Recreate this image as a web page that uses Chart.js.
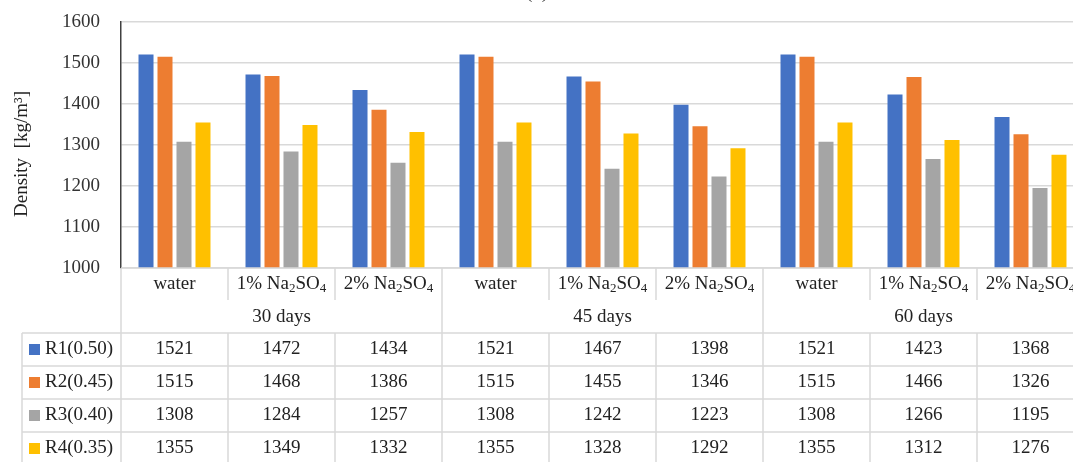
<!DOCTYPE html>
<html>
<head>
<meta charset="utf-8">
<script src="https://cdn.jsdelivr.net/npm/chart.js@4.4.1/dist/chart.umd.min.js"></script>
<style>
  html, body { margin: 0; padding: 0; background: #fff; overflow: hidden; }
  #wrap { width: 1100px; height: 482px; margin-top: -20px; }
</style>
</head>
<body>
<div id="wrap"><canvas id="densityChart" width="1100" height="482"></canvas></div>
<script>
  // data
  var periods = ["30 days", "45 days", "60 days"];
  var media = ["water", "1% Na₂SO₄", "2% Na₂SO₄"];
  var seriesNames = ["R1(0.50)", "R2(0.45)", "R3(0.40)", "R4(0.35)"];
  var seriesColors = ["#4472C4", "#ED7D31", "#A5A5A5", "#FFC000"];
  var r1 = [1521, 1472, 1434, 1521, 1467, 1398, 1521, 1423, 1368];
  var r2 = [1515, 1468, 1386, 1515, 1455, 1346, 1515, 1466, 1326];
  var r3 = [1308, 1284, 1257, 1308, 1242, 1223, 1308, 1266, 1195];
  var r4 = [1355, 1349, 1332, 1355, 1328, 1292, 1355, 1312, 1276];
  var yTicks = [1000, 1100, 1200, 1300, 1400, 1500, 1600];

  var FONT = "'Liberation Serif', 'DejaVu Serif', serif";
  var FS = 19;
  var LINE = "#d9d9d9";
  var INK = "#222";

  var labels = [];
  periods.forEach(function (p) { media.forEach(function (m) { labels.push(m + " / " + p); }); });
  var series = [r1, r2, r3, r4];

  // draws text with unicode subscript digits rendered smaller and lowered
  var SUB = { "₀": "0", "₁": "1", "₂": "2", "₃": "3", "₄": "4", "₅": "5", "₆": "6", "₇": "7", "₈": "8", "₉": "9" };
  function richText(ctx, text, x, y, align) {
    var runs = [], cur = null;
    for (var i = 0; i < text.length; i++) {
      var ch = text[i], sub = SUB[ch] !== undefined;
      var c = sub ? SUB[ch] : ch;
      if (!cur || cur.sub !== sub) { cur = { sub: sub, t: "" }; runs.push(cur); }
      cur.t += c;
    }
    var total = 0;
    runs.forEach(function (r) {
      ctx.font = (r.sub ? Math.round(FS * 0.68) : FS) + "px " + FONT;
      r.w = ctx.measureText(r.t).width;
      total += r.w;
    });
    var sx = align === "left" ? x : x - total / 2;
    ctx.textAlign = "left";
    ctx.textBaseline = "middle";
    runs.forEach(function (r) {
      ctx.font = (r.sub ? Math.round(FS * 0.68) : FS) + "px " + FONT;
      ctx.fillText(r.t, sx, r.sub ? y + FS * 0.22 : y);
      sx += r.w;
    });
  }

  var dataTable = {
    id: "dataTable",
    afterDraw: function (chart) {
      var ctx = chart.ctx, ca = chart.chartArea, xs = chart.scales.x;
      var n = labels.length, colW = (ca.right - ca.left) / n;
      var H = chart.height, W = chart.width;
      var y0 = ca.bottom, y1 = y0 + 32, y2 = y0 + 65, rowH = 33, tableLeft = 22;
      ctx.save();
      ctx.strokeStyle = LINE;
      ctx.lineWidth = 1.5;
      function line(xa, ya, xb, yb) { ctx.beginPath(); ctx.moveTo(xa, ya); ctx.lineTo(xb, yb); ctx.stroke(); }

      line(ca.left, y0, W, y0);
      line(ca.left, y0, ca.left, H);
      line(tableLeft, y2, tableLeft, H);
      for (var k = 1; k <= n; k++) {
        var bx = ca.left + k * colW;
        if (k % 3 === 0) line(bx, y0, bx, H);
        else { line(bx, y0, bx, y1); line(bx, y2, bx, H); }
      }
      for (var r = 0; r <= seriesNames.length; r++) line(tableLeft, y2 + r * rowH, W, y2 + r * rowH);

      ctx.fillStyle = INK;
      labels.forEach(function (l, i) {
        richText(ctx, media[i % 3], xs.getPixelForValue(i), y0 + 16, "center");
      });
      periods.forEach(function (p, g) {
        var cx = (xs.getPixelForValue(g * 3) + xs.getPixelForValue(g * 3 + 2)) / 2;
        richText(ctx, p, cx, y0 + 49, "center");
      });
      seriesNames.forEach(function (name, s) {
        var cy = y2 + s * rowH + rowH / 2;
        ctx.fillStyle = seriesColors[s];
        ctx.fillRect(29, cy - 5.5, 11, 11);
        ctx.fillStyle = INK;
        richText(ctx, name, 45, cy, "left");
        series[s].forEach(function (v, i) {
          richText(ctx, String(v), xs.getPixelForValue(i), cy, "center");
        });
      });

      // y axis title
      ctx.save();
      ctx.translate(22, 174);
      ctx.rotate(-Math.PI / 2);
      ctx.fillStyle = INK;
      richText(ctx, "Density  [kg/m³]", 0, 0, "center");
      ctx.restore();

      // chart title, mostly cut off at the top of the frame
      ctx.fillStyle = INK;
      ctx.font = FS + "px " + FONT;
      ctx.textAlign = "center";
      ctx.textBaseline = "alphabetic";
      ctx.fillText("(b)", 537, 18);
      ctx.restore();
    }
  };

  new Chart(document.getElementById("densityChart"), {
    type: "bar",
    data: {
      labels: labels,
      datasets: seriesNames.map(function (name, s) {
        return {
          label: name,
          data: series[s],
          backgroundColor: seriesColors[s],
          borderWidth: 0,
          categoryPercentage: 0.71,
          barPercentage: 0.79
        };
      })
    },
    options: {
      responsive: false,
      animation: false,
      layout: { padding: { top: 42, bottom: 194, left: 0, right: 16 } },
      plugins: { legend: { display: false }, tooltip: { enabled: false }, title: { display: false } },
      scales: {
        x: { display: false },
        y: {
          min: yTicks[0],
          max: yTicks[yTicks.length - 1],
          afterBuildTicks: function (scale) { scale.ticks = yTicks.map(function (v) { return { value: v }; }); },
          afterFit: function (scale) { scale.width = 121; },
          grid: { color: LINE, lineWidth: 1.5, drawTicks: false },
          border: { display: true, color: "#404040", width: 1.5 },
          ticks: {
            padding: 21, color: "#333", font: { family: FONT, size: FS },
            callback: function (v) { return String(v); }
          }
        }
      }
    },
    plugins: [dataTable]
  });
</script>
</body>
</html>
